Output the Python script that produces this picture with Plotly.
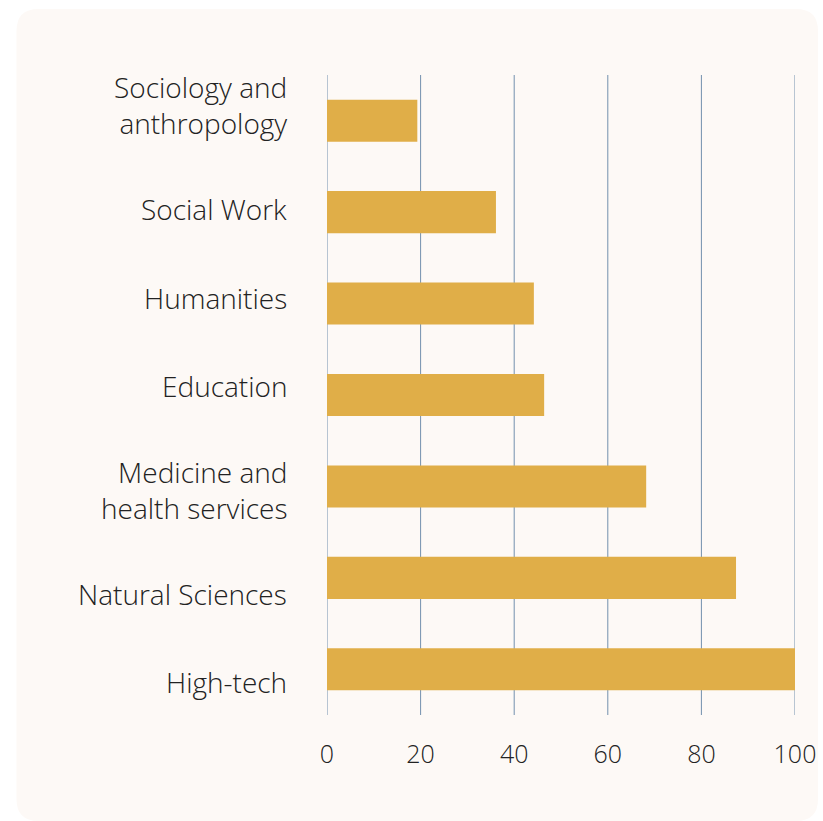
import plotly.graph_objects as go

categories = ["High-tech", "Natural Sciences", "Medicine and<br>health services",
              "Education", "Humanities", "Social Work", "Sociology and<br>anthropology"]
values = [100, 87.4, 68.2, 46.4, 44.2, 36.1, 19.3]
x_ticks = [0, 20, 40, 60, 80, 100]

# vertical offset of each category label relative to its bar (px, + = up)
label_shift = [-13, -16, -3.5, 9, 6, 3, 16]

W, H = 823, 821
L, R, T, B = 327, 795, 75, 715

def px2paper(x, y):
    return (x - L) / (R - L), (B - y) / (B - T)

# rounded background box
x0, y0, x1, y1, r = 16.5, 9, 818, 821, 22
def P(x, y):
    px, py = px2paper(x, y)
    return f"{px:.5f},{py:.5f}"
path = (f"M {P(x0 + r, y0)} L {P(x1 - r, y0)} Q {P(x1, y0)} {P(x1, y0 + r)} "
        f"L {P(x1, y1 - r)} Q {P(x1, y1)} {P(x1 - r, y1)} "
        f"L {P(x0 + r, y1)} Q {P(x0, y1)} {P(x0, y1 - r)} "
        f"L {P(x0, y0 + r)} Q {P(x0, y0)} {P(x0 + r, y0)} Z")

shapes = [dict(type="path", path=path, xref="paper", yref="paper",
               fillcolor="#FDF9F6", line=dict(width=0), layer="below")]
for t in x_ticks:
    shapes.append(dict(type="line", xref="x", yref="paper", x0=t, x1=t, y0=0, y1=1,
                       line=dict(color="#7390AE", width=1), layer="below"))

FONT = dict(family="Open Sans", size=28, color="#222222", weight=300)

annotations = []
for cat, sh in zip(categories, label_shift):
    annotations.append(dict(
        x=0, xref="paper", xanchor="right", xshift=-38,
        y=cat, yref="y", yanchor="middle", yshift=sh,
        text=cat, showarrow=False, font=FONT, align="right",
    ))

fig = go.Figure(go.Bar(
    x=values, y=categories, orientation="h",
    marker=dict(color="#E0AE48", line=dict(width=0)),
    width=0.46,
))

fig.update_layout(
    width=W, height=H,
    margin=dict(l=L, r=W - R, t=T, b=H - B, autoexpand=False),
    paper_bgcolor="white",
    plot_bgcolor="rgba(0,0,0,0)",
    font=FONT,
    showlegend=False,
    shapes=shapes,
    annotations=annotations,
)
fig.update_xaxes(range=[0, 100], tickvals=x_ticks, showgrid=False,
                 zeroline=False, showline=False, ticks="", ticklabelstandoff=22,
                 fixedrange=True, automargin=False,
                 tickfont=dict(family="Open Sans", size=25, color="#222222", weight=300))
fig.update_yaxes(range=[-0.5, 6.5], showgrid=False, zeroline=False,
                 showline=False, ticks="", showticklabels=False, fixedrange=True,
                 automargin=False)

fig.write_html("out.html")
